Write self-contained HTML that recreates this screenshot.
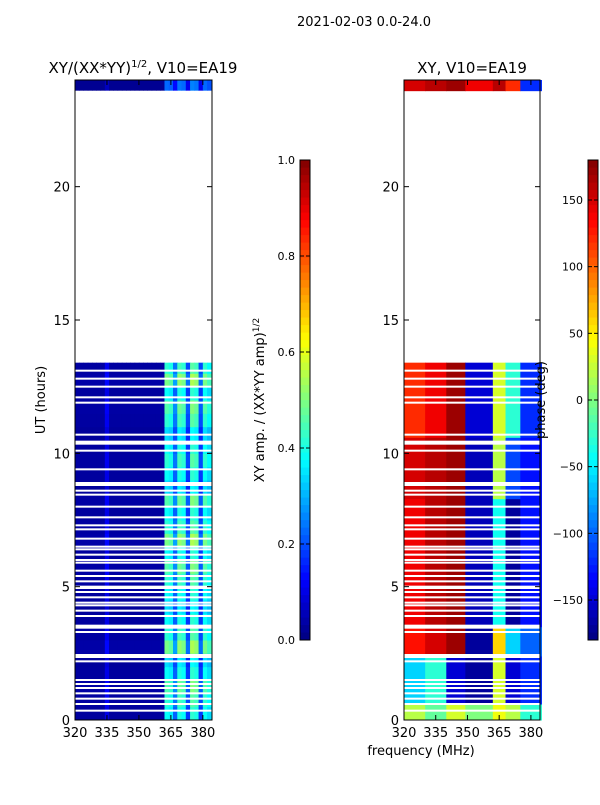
<!DOCTYPE html>
<html><head><meta charset="utf-8"><style>
body{margin:0;background:#fff;}
svg text{font-family:"DejaVu Sans","Liberation Sans",sans-serif;fill:#000;}
</style></head><body>
<svg id="fig" width="600" height="800" xmlns="http://www.w3.org/2000/svg">
<rect width="600" height="800" fill="#fff"/>
<text x="364" y="26" font-size="13" text-anchor="middle">2021-02-03 0.0-24.0</text>
<text x="143" y="73" font-size="15" text-anchor="middle">XY/(XX*YY)<tspan font-size="10" dy="-6">1/2</tspan><tspan dy="6">, V10=EA19</tspan></text>
<text x="472" y="73" font-size="15" text-anchor="middle">XY, V10=EA19</text>
<g id="leftHeat"></g>
<g id="rightHeat"></g>
<g id="axes"></g>
<text transform="translate(45,400) rotate(-90)" font-size="13" text-anchor="middle">UT (hours)</text>
<text x="421" y="755" font-size="13" text-anchor="middle">frequency (MHz)</text>
<text transform="translate(264,400) rotate(-90)" font-size="13" text-anchor="middle">XY amp. / (XX*YY amp)<tspan font-size="9" dy="-5">1/2</tspan></text>
<text transform="translate(545,400) rotate(-90)" font-size="13" text-anchor="middle">phase (deg)</text>
</svg>
<script>
// ---- data ----
const freqStart = 320, freqStep = 2;
const ampColProfile = [0.03,0.03,0.03,0.03,0.03,0.03,0.03,0.1,0.03,0.03,0.03,0.03,0.03,0.03,0.03,0.03,0.03,0.03,0.03,0.03,0.03,0.38,0.36,0.22,0.4,0.38,0.18,0.42,0.4,0.18,0.38,0.34];
const ampRowGain = [1.0,1.1,1.2,1.0,0.9,1.3,1.1,1.0,0.9,1.0,1.1,1.2,1.0,1.3,1.1,1.0,1.2,0.9,1.0,1.1,1.0,0.9,1.1,1.2,1.0,1.3,1.1];
const timeStep = 0.5;
const dataEnd = 13.4, dataTopStart = 23.6;
const phaseBandStarts = [0, 0.6, 2.4, 3.5, 8.3, 10.6, 23.6];
const phaseBandEnds = [0.6, 2.4, 3.5, 8.3, 10.6, 13.4, 24];
const phaseSegEdges = [320, 330, 340, 349, 362, 368, 375, 385];
const phaseBands = [
 [20, -10, 30, 0, 40, 20, -30],
 [-60, -30, -150, -170, 30, -150, -120],
 [130, 150, 170, -170, 60, -60, -100],
 [140, 160, 170, -160, -40, -170, -130],
 [150, 160, 170, -160, 20, -110, -130],
 [120, 140, 170, -150, 30, -30, -120],
 [150, 160, 170, 140, 160, 120, -120]
];
const gapTimes = [13.1,12.8,12.5,12.1,11.9,10.7,10.4,10.1,9.4,8.85,8.6,8.45,8.0,7.6,7.3,7.15,6.8,6.5,6.4,6.2,6.0,5.9,5.6,5.4,5.2,5.0,4.95,4.8,4.6,4.4,4.3,4.1,3.9,3.5,3.3,2.4,2.2,1.5,1.35,1.2,1.0,0.8,0.6,0.35];
const gapWidths = [1,1,1,1,1,1,3,1,1,3,1,1,1,1,1,1,1,1,1,1,1,1,1,1,1,1,1,1,1,1,1,1,1,3,1,3,1,1,1,1,1,1,1,1];
const hourTicks = [0,5,10,15,20];
const freqTicks = [320,335,350,365,380];
const ampTicks = [0.0,0.2,0.4,0.6,0.8,1.0];
const phaseTicks = [-150,-100,-50,0,50,100,150];
// ---- scales ----
const NS='http://www.w3.org/2000/svg';
const yT = h => 720 - h*(640/24);
const xL = f => 75 + (f-320)*(137/64.3);
const xR = f => 404 + (f-320)*(136/64.3);
function jet(v){v=Math.max(0,Math.min(1,v));
 const r=Math.max(0,Math.min(1,1.5-Math.abs(4*v-3))),g=Math.max(0,Math.min(1,1.5-Math.abs(4*v-2))),b=Math.max(0,Math.min(1,1.5-Math.abs(4*v-1)));
 return `rgb(${Math.round(r*255)},${Math.round(g*255)},${Math.round(b*255)})`;}
function mk(tag,attrs,parent){const e=document.createElementNS(NS,tag);for(const k in attrs)e.setAttribute(k,attrs[k]);parent.appendChild(e);return e;}
const LH=document.getElementById('leftHeat'),RH=document.getElementById('rightHeat'),AX=document.getElementById('axes');
// amplitude heatmap
for(let r=0;r<ampRowGain.length;r++){
 const t0=r*timeStep, t1=Math.min(dataEnd,(r+1)*timeStep); if(t0>=dataEnd)break;
 for(let c=0;c<ampColProfile.length;c++){
  const f0=freqStart+c*freqStep;
  const el=mk('rect',{x:xL(f0),y:yT(t1),width:xL(f0+freqStep)-xL(f0)+0.5,height:yT(t0)-yT(t1)+0.5,fill:jet(ampColProfile[c]*ampRowGain[r])},LH);
  
  
 }
}
for(let c=0;c<ampColProfile.length;c++){
 const f0=freqStart+c*freqStep;
 const el=mk('rect',{x:xL(f0),y:yT(24),width:xL(f0+freqStep)-xL(f0)+0.5,height:yT(dataTopStart)-yT(24),fill:jet(ampColProfile[c]*0.6)},LH);
 
 
}
// phase heatmap
for(let b=0;b<phaseBands.length;b++){
 for(let s=0;s<phaseSegEdges.length-1;s++){
  const el=mk('rect',{x:xR(phaseSegEdges[s]),y:yT(phaseBandEnds[b]),width:xR(phaseSegEdges[s+1])-xR(phaseSegEdges[s])+0.5,height:yT(phaseBandStarts[b])-yT(phaseBandEnds[b])+0.5,fill:jet((phaseBands[b][s]+180)/360)},RH);
  
  
 }
}
// gaps
[[LH,75,212],[RH,404,540]].forEach(([g,x0,x1])=>{
 gapTimes.forEach((t,i)=>{
  const el=mk('rect',{x:x0,y:yT(t)-gapWidths[i]/2-0.5,width:x1-x0,height:gapWidths[i]+1,fill:'#fff'},g);
  
  
 });
});
// axes frames and ticks
[[75,212,xL,'left'],[404,540,xR,'right']].forEach(([x0,x1,xs,nm])=>{
 const fr=mk('rect',{x:x0,y:80,width:x1-x0,height:640,fill:'none',stroke:'#000','stroke-width':1},AX);
 
 
 hourTicks.forEach(h=>{
  mk('line',{x1:x0,x2:x0+5,y1:yT(h),y2:yT(h),stroke:'#000'},AX);
  mk('line',{x1:x1,x2:x1-5,y1:yT(h),y2:yT(h),stroke:'#000'},AX);
  const t=mk('text',{x:x0-5,y:yT(h)+5,'font-size':13,'text-anchor':'end'},AX);t.textContent=h;
  
  
 });
 freqTicks.forEach(f=>{
  mk('line',{x1:xs(f),x2:xs(f),y1:720,y2:715,stroke:'#000'},AX);
  mk('line',{x1:xs(f),x2:xs(f),y1:80,y2:85,stroke:'#000'},AX);
  const t=mk('text',{x:xs(f),y:737,'font-size':13,'text-anchor':'middle'},AX);t.textContent=f;
  
  
 });
});
// colorbars
function colorbar(x,ticks,lo,hi,nm,fmt){
 const g=mk('g',{},AX);
 
 
 for(let i=0;i<64;i++){
  mk('rect',{x:x,y:640-(i+1)*7.5,width:10,height:7.6,fill:jet((i+0.5)/64)},g);
 }
 mk('rect',{x:x,y:160,width:10,height:480,fill:'none',stroke:'#000'},g);
 ticks.forEach(v=>{
  const y=640-(v-lo)/(hi-lo)*480;
  mk('line',{x1:x,x2:x+4,y1:y,y2:y,stroke:'#000'},g);
  mk('line',{x1:x+10,x2:x+6,y1:y,y2:y,stroke:'#000'},g);
  const t=mk('text',{x:x-5,y:y+4,'font-size':11,'text-anchor':'end'},g);t.textContent=fmt(v);
  
  
 });
}
colorbar(300,ampTicks,0,1,'amp-colorbar',v=>v.toFixed(1));
colorbar(588,phaseTicks,-180,180,'phase-colorbar',v=>v<0?'\u2212'+(-v):String(v));
</script>
</body></html>
